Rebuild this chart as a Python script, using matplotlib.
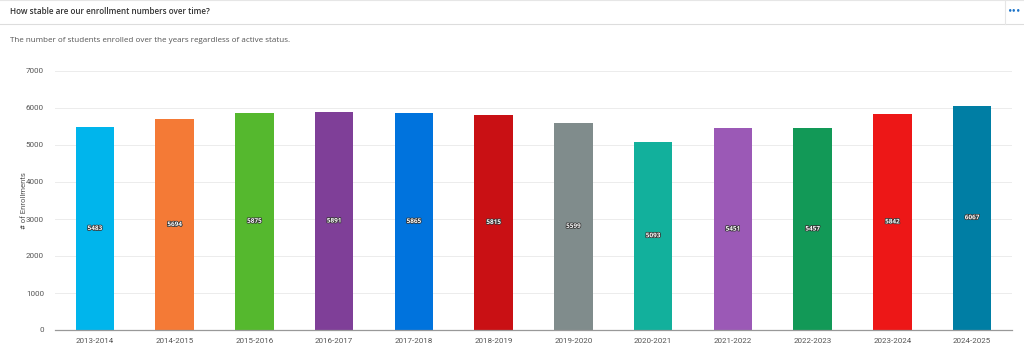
import matplotlib
matplotlib.use('Agg')
import matplotlib.pyplot as plt
import matplotlib.patheffects as pe
from matplotlib.lines import Line2D

years = ['2013-2014', '2014-2015', '2015-2016', '2016-2017', '2017-2018', '2018-2019',
         '2019-2020', '2020-2021', '2021-2022', '2022-2023', '2023-2024', '2024-2025']
enrollments = [5483, 5694, 5875, 5891, 5865, 5815, 5599, 5093, 5451, 5457, 5842, 6067]
bar_colors = ['#00b5ec', '#f47a36', '#55b82e', '#7f3f98', '#0073dd', '#c91014',
              '#808c8c', '#12b09c', '#9b59b6', '#129957', '#ed1717', '#007ea4']
yticks = [0, 1000, 2000, 3000, 4000, 5000, 6000, 7000]

title = 'How stable are our enrollment numbers over time?'
subtitle = 'The number of students enrolled over the years regardless of active status.'

fig = plt.figure(figsize=(10.24, 3.64), dpi=100)
fig.patch.set_facecolor('white')

# header
fig.text(10/1024, 1 - 11/364, title, fontsize=5.9, fontweight='semibold',
         family=['Open Sans', 'DejaVu Sans'], color='#333333', va='center', ha='left')
fig.text(10/1024, 1 - 41/364, subtitle, fontsize=5.8,
         family=['Open Sans', 'DejaVu Sans'], color='#555555', va='center', ha='left')
fig.text(1015/1024, 1 - 10/364, '•••', fontsize=5, color='#1a73c9',
         va='center', ha='center', fontweight='bold')
fig.add_artist(Line2D([0, 1], [1 - 24/364, 1 - 24/364], color='#dddddd', lw=0.8,
                      transform=fig.transFigure))
fig.add_artist(Line2D([1005/1024, 1005/1024], [1 - 24/364, 1], color='#e6e6e6', lw=0.8,
                      transform=fig.transFigure))
fig.add_artist(Line2D([0, 1], [0.999, 0.999], color='#e6e6e6', lw=0.8,
                      transform=fig.transFigure))

ax = fig.add_axes([55/1024, 34/364, 957/1024, 259/364])
x = list(range(len(years)))
ax.bar(x, enrollments, width=0.48, color=bar_colors, zorder=3)

for xi, v in zip(x, enrollments):
    ax.text(xi, v / 2, str(v), fontsize=4.6, color='white', ha='center', va='center',
            fontweight='bold', zorder=4, family=['Open Sans', 'DejaVu Sans'],
            path_effects=[pe.withStroke(linewidth=1.1, foreground='#333333')])

ax.set_xlim(-0.5, len(years) - 0.5)
ax.set_ylim(0, 7000)
ax.set_yticks(yticks)
ax.set_xticks(x)
ax.set_xticklabels(years)
ax.tick_params(axis='both', length=0, labelsize=5.8, labelcolor='#555555')
ax.tick_params(axis='x', pad=6)
ax.tick_params(axis='y', pad=8)
for lab in ax.get_xticklabels() + ax.get_yticklabels():
    lab.set_family(['Roboto', 'DejaVu Sans'])
ax.set_ylabel('# of Enrollments', fontsize=5.6, color='#555555', family=['Roboto', 'DejaVu Sans'])
ax.yaxis.set_label_coords(-0.029, 0.5)
ax.grid(axis='y', color='#ececec', linewidth=0.7, zorder=0)
for s in ['top', 'right', 'left']:
    ax.spines[s].set_visible(False)
ax.spines['bottom'].set_color('#999999')
ax.spines['bottom'].set_linewidth(0.9)
ax.spines['bottom'].set_zorder(5)

plt.savefig('out.png', dpi=100)
